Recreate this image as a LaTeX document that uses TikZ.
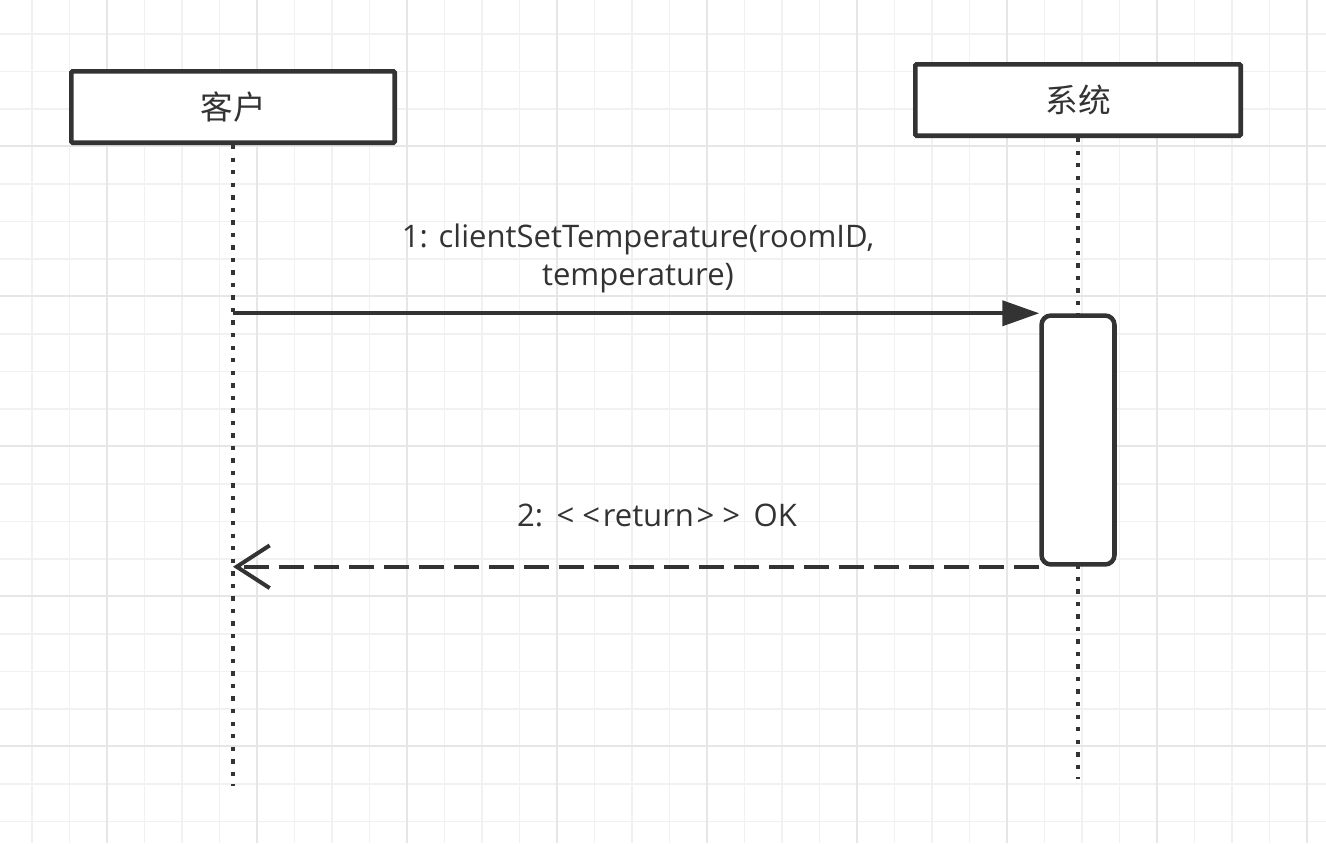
\documentclass[tikz,border=0pt]{standalone}
\usepackage{fontspec}
\setmainfont{Open Sans}
\newfontfamily\cjk{Noto Sans CJK SC}
\usetikzlibrary{arrows.meta}
\definecolor{ink}{HTML}{333333}
\definecolor{gminor}{HTML}{F1F1F1}
\definecolor{gmajor}{HTML}{E6E6E6}
\begin{document}
\begin{tikzpicture}[x=0.75pt,y=-0.75pt,
  minorline/.style={draw=gminor, line width=1.1pt},
  majorline/.style={draw=gmajor, line width=1.3pt},
  actor/.style={draw=ink, line width=3.4pt, fill=white, minimum height=53.6pt,
    inner sep=0pt, rounded corners=1pt, text=ink, font=\cjk\fontsize{24.5}{28}\selectfont},
  actbox/.style={draw=ink, line width=3.4pt, fill=white, rounded corners=7pt,
    minimum width=54.7pt, minimum height=186.7pt, inner sep=0pt},
  lifeline/.style={draw=ink, line width=3.3pt, dash pattern=on 3.3pt off 6.1pt},
  msg/.style={draw=ink, line width=3pt, -{Triangle[length=27.75pt,width=18.75pt]}},
  ret/.style={draw=ink, line width=3pt, dash pattern=on 18.75pt off 7.5pt,
    -{Straight Barb[length=24.75pt,width=32pt]}},
  lbl/.style={text=ink, font=\fontsize{23.3}{28.5}\selectfont, align=center, inner sep=0pt}
]
\useasboundingbox (0,0) rectangle (1326,843);
\fill[white] (0,0) rectangle (1326,843);
% grid
\foreach \k in {0,...,34} {
  \pgfmathsetmacro\xx{32+37.5*\k}
  \draw[minorline] (\xx,0) -- (\xx,843);
}
\foreach \k in {0,...,21} {
  \pgfmathsetmacro\yy{34+37.5*\k}
  \draw[minorline] (0,\yy) -- (1326,\yy);
}
\foreach \m in {0,...,8} {
  \pgfmathsetmacro\xx{107+150*\m}
  \draw[majorline] (\xx,0) -- (\xx,843);
}
\foreach \m in {0,...,4} {
  \pgfmathsetmacro\yy{146+150*\m}
  \draw[majorline] (0,\yy) -- (1326,\yy);
}
% actors
\node[actor, minimum width=242.6pt] (cl) at (233,107) {客户};
\node[actor, minimum width=244.1pt] (sy) at (1078,100) {系统};
\coordinate (clend) at (233,786);
\coordinate (syend) at (1078,779);
\draw[lifeline] (cl.south) -- (clend);
\draw[lifeline] (sy.south) -- (syend);
% activation
\node[actbox] (act) at (1078,440) {};
% messages
\coordinate (m1s) at (cl.south |- act.north west);
\draw[msg] (m1s) -- (act.north west);
\coordinate (m2e) at (cl.south |- act.south west);
\draw[ret] (act.south west) -- (m2e);
% labels
\node[lbl, anchor=base] (l1) at (638,285) {1: clientSetTemperature(roomID,\\temperature)};
\node[lbl, anchor=base] (l2) at (657,526) {2: \kern2pt<\kern6pt<\kern2pt return\kern2pt>\kern6pt> \kern4pt OK};
\end{tikzpicture}
\end{document}
